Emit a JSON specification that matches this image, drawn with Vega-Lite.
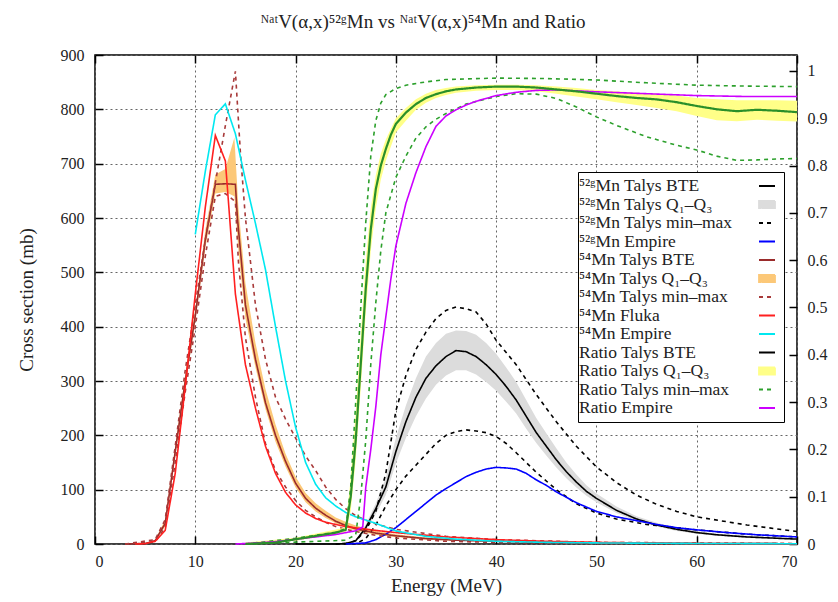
{
  "$schema": "https://vega.github.io/schema/vega-lite/v6.json",
  "width": 702,
  "height": 489,
  "autosize": {"type": "none"},
  "padding": {"left": 95, "top": 55, "right": 41, "bottom": 58},
  "config": {
    "view": {"stroke": "black", "strokeWidth": 1.5},
    "font": "Liberation Serif",
    "axis": {"labelFont": "Liberation Serif", "titleFont": "Liberation Serif", "labelFontSize": 16, "titleFontSize": 19, "titleFontWeight": "normal", "labelColor": "#222", "titleColor": "#222"}
  },
  "title": {"text": "ᴺᵃᵗV(α,x)⁵²ᵍMn vs ᴺᵃᵗV(α,x)⁵⁴Mn and Ratio", "font": "Liberation Serif", "fontSize": 19, "fontWeight": "normal", "color": "#222", "anchor": "middle", "dx": -23, "offset": 15},
  "datasets": {
    "lines": [
      {"s":"01","p":"a","E":20,"v":0},{"s":"01","p":"a","E":24,"v":0},{"s":"01","p":"a","E":25,"v":1},{"s":"01","p":"a","E":26,"v":6},{"s":"01","p":"a","E":27,"v":30},{"s":"01","p":"a","E":28,"v":65},{"s":"01","p":"a","E":29,"v":105},{"s":"01","p":"a","E":30,"v":170},{"s":"01","p":"a","E":31,"v":225},{"s":"01","p":"a","E":32,"v":270},{"s":"01","p":"a","E":33,"v":305},{"s":"01","p":"a","E":34,"v":328},{"s":"01","p":"a","E":35,"v":345},{"s":"01","p":"a","E":36,"v":356},{"s":"01","p":"a","E":37,"v":354},{"s":"01","p":"a","E":38,"v":345},{"s":"01","p":"a","E":39,"v":330},{"s":"01","p":"a","E":40,"v":312},{"s":"01","p":"a","E":41,"v":290},{"s":"01","p":"a","E":42,"v":265},{"s":"01","p":"a","E":43,"v":235},{"s":"01","p":"a","E":44,"v":205},{"s":"01","p":"a","E":45,"v":180},{"s":"01","p":"a","E":46,"v":155},{"s":"01","p":"a","E":47,"v":133},{"s":"01","p":"a","E":48,"v":114},{"s":"01","p":"a","E":49,"v":97},{"s":"01","p":"a","E":50,"v":84},{"s":"01","p":"a","E":52,"v":62},{"s":"01","p":"a","E":54,"v":46},{"s":"01","p":"a","E":56,"v":35},{"s":"01","p":"a","E":58,"v":27},{"s":"01","p":"a","E":60,"v":21},{"s":"01","p":"a","E":62,"v":17},{"s":"01","p":"a","E":65,"v":13},{"s":"01","p":"a","E":70,"v":9},

      {"s":"03","p":"lo","E":24,"v":0},{"s":"03","p":"lo","E":26,"v":0.5},{"s":"03","p":"lo","E":27,"v":10},{"s":"03","p":"lo","E":28,"v":35},{"s":"03","p":"lo","E":29,"v":70},{"s":"03","p":"lo","E":30,"v":100},{"s":"03","p":"lo","E":31,"v":125},{"s":"03","p":"lo","E":32,"v":145},{"s":"03","p":"lo","E":33,"v":165},{"s":"03","p":"lo","E":34,"v":185},{"s":"03","p":"lo","E":35,"v":200},{"s":"03","p":"lo","E":36,"v":207},{"s":"03","p":"lo","E":37,"v":210},{"s":"03","p":"lo","E":38,"v":208},{"s":"03","p":"lo","E":39,"v":205},{"s":"03","p":"lo","E":40,"v":198},{"s":"03","p":"lo","E":41,"v":185},{"s":"03","p":"lo","E":42,"v":168},{"s":"03","p":"lo","E":43,"v":150},{"s":"03","p":"lo","E":44,"v":132},{"s":"03","p":"lo","E":46,"v":100},{"s":"03","p":"lo","E":48,"v":74},{"s":"03","p":"lo","E":50,"v":57},{"s":"03","p":"lo","E":52,"v":46},{"s":"03","p":"lo","E":55,"v":36},{"s":"03","p":"lo","E":60,"v":26},{"s":"03","p":"lo","E":65,"v":18},{"s":"03","p":"lo","E":70,"v":13},

      {"s":"03","p":"hi","E":24,"v":0},{"s":"03","p":"hi","E":25,"v":1},{"s":"03","p":"hi","E":26,"v":6},{"s":"03","p":"hi","E":27,"v":25},{"s":"03","p":"hi","E":28,"v":60},{"s":"03","p":"hi","E":29,"v":130},{"s":"03","p":"hi","E":30,"v":245},{"s":"03","p":"hi","E":31,"v":310},{"s":"03","p":"hi","E":32,"v":358},{"s":"03","p":"hi","E":33,"v":390},{"s":"03","p":"hi","E":34,"v":415},{"s":"03","p":"hi","E":35,"v":430},{"s":"03","p":"hi","E":36,"v":436},{"s":"03","p":"hi","E":37,"v":433},{"s":"03","p":"hi","E":38,"v":427},{"s":"03","p":"hi","E":39,"v":405},{"s":"03","p":"hi","E":40,"v":375},{"s":"03","p":"hi","E":42,"v":330},{"s":"03","p":"hi","E":44,"v":275},{"s":"03","p":"hi","E":46,"v":225},{"s":"03","p":"hi","E":48,"v":180},{"s":"03","p":"hi","E":50,"v":142},{"s":"03","p":"hi","E":52,"v":113},{"s":"03","p":"hi","E":54,"v":90},{"s":"03","p":"hi","E":56,"v":73},{"s":"03","p":"hi","E":58,"v":60},{"s":"03","p":"hi","E":60,"v":50},{"s":"03","p":"hi","E":65,"v":35},{"s":"03","p":"hi","E":70,"v":23},

      {"s":"04","p":"a","E":25,"v":0},{"s":"04","p":"a","E":27,"v":2},{"s":"04","p":"a","E":28,"v":8},{"s":"04","p":"a","E":29,"v":18},{"s":"04","p":"a","E":30,"v":30},{"s":"04","p":"a","E":31,"v":45},{"s":"04","p":"a","E":32,"v":60},{"s":"04","p":"a","E":33,"v":75},{"s":"04","p":"a","E":34,"v":90},{"s":"04","p":"a","E":35,"v":102},{"s":"04","p":"a","E":36,"v":113},{"s":"04","p":"a","E":37,"v":124},{"s":"04","p":"a","E":38,"v":132},{"s":"04","p":"a","E":39,"v":138},{"s":"04","p":"a","E":40,"v":141},{"s":"04","p":"a","E":41,"v":140},{"s":"04","p":"a","E":42,"v":138},{"s":"04","p":"a","E":43,"v":130},{"s":"04","p":"a","E":44,"v":118},{"s":"04","p":"a","E":45,"v":108},{"s":"04","p":"a","E":46,"v":96},{"s":"04","p":"a","E":47,"v":86},{"s":"04","p":"a","E":48,"v":76},{"s":"04","p":"a","E":50,"v":60},{"s":"04","p":"a","E":52,"v":50},{"s":"04","p":"a","E":54,"v":43},{"s":"04","p":"a","E":56,"v":36},{"s":"04","p":"a","E":58,"v":30},{"s":"04","p":"a","E":60,"v":26},{"s":"04","p":"a","E":63,"v":21},{"s":"04","p":"a","E":66,"v":17},{"s":"04","p":"a","E":70,"v":13},

      {"s":"05","p":"a","E":3,"v":0},{"s":"05","p":"a","E":5,"v":1},{"s":"05","p":"a","E":6,"v":6},{"s":"05","p":"a","E":7,"v":38},{"s":"05","p":"a","E":8,"v":170},{"s":"05","p":"a","E":9,"v":300},{"s":"05","p":"a","E":10,"v":420},{"s":"05","p":"a","E":11,"v":560},{"s":"05","p":"a","E":12,"v":662},{"s":"05","p":"a","E":13,"v":663},{"s":"05","p":"a","E":14,"v":662},{"s":"05","p":"a","E":14.2,"v":600},{"s":"05","p":"a","E":15,"v":440},{"s":"05","p":"a","E":16,"v":340},{"s":"05","p":"a","E":17,"v":260},{"s":"05","p":"a","E":18,"v":200},{"s":"05","p":"a","E":19,"v":152},{"s":"05","p":"a","E":20,"v":112},{"s":"05","p":"a","E":21,"v":84},{"s":"05","p":"a","E":22,"v":66},{"s":"05","p":"a","E":23,"v":53},{"s":"05","p":"a","E":24,"v":42},{"s":"05","p":"a","E":25,"v":34},{"s":"05","p":"a","E":26,"v":28},{"s":"05","p":"a","E":28,"v":20},{"s":"05","p":"a","E":30,"v":15},{"s":"05","p":"a","E":33,"v":10},{"s":"05","p":"a","E":36,"v":7},{"s":"05","p":"a","E":40,"v":5},{"s":"05","p":"a","E":45,"v":3},{"s":"05","p":"a","E":50,"v":2},{"s":"05","p":"a","E":60,"v":1},{"s":"05","p":"a","E":70,"v":0.5},

      {"s":"07","p":"lo","E":3,"v":0},{"s":"07","p":"lo","E":6,"v":4},{"s":"07","p":"lo","E":7,"v":30},{"s":"07","p":"lo","E":8,"v":150},{"s":"07","p":"lo","E":9,"v":280},{"s":"07","p":"lo","E":10,"v":400},{"s":"07","p":"lo","E":11,"v":530},{"s":"07","p":"lo","E":12,"v":640},{"s":"07","p":"lo","E":13,"v":645},{"s":"07","p":"lo","E":14,"v":630},{"s":"07","p":"lo","E":14.3,"v":520},{"s":"07","p":"lo","E":15,"v":380},{"s":"07","p":"lo","E":16,"v":270},{"s":"07","p":"lo","E":17,"v":185},{"s":"07","p":"lo","E":18,"v":135},{"s":"07","p":"lo","E":19,"v":105},{"s":"07","p":"lo","E":20,"v":80},{"s":"07","p":"lo","E":21,"v":62},{"s":"07","p":"lo","E":22,"v":50},{"s":"07","p":"lo","E":23,"v":40},{"s":"07","p":"lo","E":24,"v":32},{"s":"07","p":"lo","E":25,"v":27},{"s":"07","p":"lo","E":26,"v":23},{"s":"07","p":"lo","E":28,"v":16},{"s":"07","p":"lo","E":30,"v":11},{"s":"07","p":"lo","E":35,"v":5},{"s":"07","p":"lo","E":40,"v":3},{"s":"07","p":"lo","E":50,"v":1},{"s":"07","p":"lo","E":70,"v":0.3},

      {"s":"07","p":"hi","E":3,"v":0},{"s":"07","p":"hi","E":6,"v":8},{"s":"07","p":"hi","E":7,"v":45},{"s":"07","p":"hi","E":8,"v":180},{"s":"07","p":"hi","E":9,"v":320},{"s":"07","p":"hi","E":10,"v":440},{"s":"07","p":"hi","E":11,"v":560},{"s":"07","p":"hi","E":12,"v":665},{"s":"07","p":"hi","E":13,"v":770},{"s":"07","p":"hi","E":14,"v":870},{"s":"07","p":"hi","E":14.5,"v":720},{"s":"07","p":"hi","E":15,"v":600},{"s":"07","p":"hi","E":16,"v":440},{"s":"07","p":"hi","E":17,"v":340},{"s":"07","p":"hi","E":18,"v":270},{"s":"07","p":"hi","E":19,"v":230},{"s":"07","p":"hi","E":20,"v":195},{"s":"07","p":"hi","E":21,"v":162},{"s":"07","p":"hi","E":22,"v":135},{"s":"07","p":"hi","E":23,"v":105},{"s":"07","p":"hi","E":24,"v":82},{"s":"07","p":"hi","E":25,"v":65},{"s":"07","p":"hi","E":26,"v":52},{"s":"07","p":"hi","E":27,"v":44},{"s":"07","p":"hi","E":28,"v":37},{"s":"07","p":"hi","E":30,"v":27},{"s":"07","p":"hi","E":35,"v":14},{"s":"07","p":"hi","E":40,"v":8},{"s":"07","p":"hi","E":50,"v":3},{"s":"07","p":"hi","E":70,"v":1},

      {"s":"08","p":"a","E":4,"v":0},{"s":"08","p":"a","E":5,"v":0.5},{"s":"08","p":"a","E":6,"v":5},{"s":"08","p":"a","E":7,"v":25},{"s":"08","p":"a","E":8,"v":130},{"s":"08","p":"a","E":9,"v":290},{"s":"08","p":"a","E":10,"v":460},{"s":"08","p":"a","E":11,"v":620},{"s":"08","p":"a","E":12,"v":752},{"s":"08","p":"a","E":13,"v":705},{"s":"08","p":"a","E":14,"v":460},{"s":"08","p":"a","E":15,"v":330},{"s":"08","p":"a","E":16,"v":250},{"s":"08","p":"a","E":17,"v":180},{"s":"08","p":"a","E":18,"v":130},{"s":"08","p":"a","E":19,"v":95},{"s":"08","p":"a","E":20,"v":72},{"s":"08","p":"a","E":21,"v":57},{"s":"08","p":"a","E":22,"v":47},{"s":"08","p":"a","E":23,"v":40},{"s":"08","p":"a","E":25,"v":32},{"s":"08","p":"a","E":28,"v":25},{"s":"08","p":"a","E":30,"v":21},{"s":"08","p":"a","E":35,"v":13},{"s":"08","p":"a","E":40,"v":8},{"s":"08","p":"a","E":45,"v":5},{"s":"08","p":"a","E":50,"v":3},{"s":"08","p":"a","E":60,"v":1},{"s":"08","p":"a","E":70,"v":0.5},

      {"s":"09","p":"a","E":10,"v":570},{"s":"09","p":"a","E":11,"v":686},{"s":"09","p":"a","E":12,"v":790},{"s":"09","p":"a","E":13,"v":810},{"s":"09","p":"a","E":14,"v":755},{"s":"09","p":"a","E":15,"v":670},{"s":"09","p":"a","E":16,"v":590},{"s":"09","p":"a","E":17,"v":505},{"s":"09","p":"a","E":18,"v":400},{"s":"09","p":"a","E":19,"v":300},{"s":"09","p":"a","E":20,"v":215},{"s":"09","p":"a","E":21,"v":150},{"s":"09","p":"a","E":22,"v":110},{"s":"09","p":"a","E":23,"v":85},{"s":"09","p":"a","E":24,"v":70},{"s":"09","p":"a","E":25,"v":58},{"s":"09","p":"a","E":26,"v":50},{"s":"09","p":"a","E":28,"v":38},{"s":"09","p":"a","E":30,"v":24},{"s":"09","p":"a","E":33,"v":14},{"s":"09","p":"a","E":36,"v":9},{"s":"09","p":"a","E":40,"v":5},{"s":"09","p":"a","E":45,"v":3},{"s":"09","p":"a","E":50,"v":2},{"s":"09","p":"a","E":60,"v":1},{"s":"09","p":"a","E":70,"v":0.5},

      {"s":"10","p":"a","E":15,"v":0},{"s":"10","p":"a","E":18,"v":0.003},{"s":"10","p":"a","E":20,"v":0.01},{"s":"10","p":"a","E":22,"v":0.017},{"s":"10","p":"a","E":24,"v":0.024},{"s":"10","p":"a","E":25,"v":0.03},{"s":"10","p":"a","E":25.5,"v":0.1},{"s":"10","p":"a","E":26,"v":0.22},{"s":"10","p":"a","E":26.5,"v":0.38},{"s":"10","p":"a","E":27,"v":0.54},{"s":"10","p":"a","E":27.5,"v":0.665},{"s":"10","p":"a","E":28,"v":0.75},{"s":"10","p":"a","E":28.5,"v":0.8},{"s":"10","p":"a","E":29,"v":0.835},{"s":"10","p":"a","E":29.5,"v":0.865},{"s":"10","p":"a","E":30,"v":0.888},{"s":"10","p":"a","E":31,"v":0.912},{"s":"10","p":"a","E":32,"v":0.93},{"s":"10","p":"a","E":33,"v":0.943},{"s":"10","p":"a","E":34,"v":0.951},{"s":"10","p":"a","E":35,"v":0.957},{"s":"10","p":"a","E":36,"v":0.961},{"s":"10","p":"a","E":38,"v":0.965},{"s":"10","p":"a","E":40,"v":0.967},{"s":"10","p":"a","E":42,"v":0.967},{"s":"10","p":"a","E":44,"v":0.965},{"s":"10","p":"a","E":46,"v":0.961},{"s":"10","p":"a","E":48,"v":0.957},{"s":"10","p":"a","E":50,"v":0.952},{"s":"10","p":"a","E":52,"v":0.947},{"s":"10","p":"a","E":54,"v":0.943},{"s":"10","p":"a","E":56,"v":0.94},{"s":"10","p":"a","E":58,"v":0.934},{"s":"10","p":"a","E":60,"v":0.926},{"s":"10","p":"a","E":62,"v":0.919},{"s":"10","p":"a","E":64,"v":0.915},{"s":"10","p":"a","E":66,"v":0.918},{"s":"10","p":"a","E":68,"v":0.916},{"s":"10","p":"a","E":70,"v":0.913},

      {"s":"12","p":"lo","E":15,"v":0},{"s":"12","p":"lo","E":20,"v":0.004},{"s":"12","p":"lo","E":25,"v":0.008},{"s":"12","p":"lo","E":26,"v":0.02},{"s":"12","p":"lo","E":26.5,"v":0.1},{"s":"12","p":"lo","E":27,"v":0.22},{"s":"12","p":"lo","E":27.5,"v":0.38},{"s":"12","p":"lo","E":28,"v":0.51},{"s":"12","p":"lo","E":28.5,"v":0.62},{"s":"12","p":"lo","E":29,"v":0.7},{"s":"12","p":"lo","E":30,"v":0.775},{"s":"12","p":"lo","E":31,"v":0.82},{"s":"12","p":"lo","E":32,"v":0.858},{"s":"12","p":"lo","E":33,"v":0.882},{"s":"12","p":"lo","E":34,"v":0.898},{"s":"12","p":"lo","E":35,"v":0.91},{"s":"12","p":"lo","E":37,"v":0.93},{"s":"12","p":"lo","E":40,"v":0.946},{"s":"12","p":"lo","E":42,"v":0.952},{"s":"12","p":"lo","E":44,"v":0.951},{"s":"12","p":"lo","E":46,"v":0.942},{"s":"12","p":"lo","E":48,"v":0.924},{"s":"12","p":"lo","E":50,"v":0.903},{"s":"12","p":"lo","E":52,"v":0.885},{"s":"12","p":"lo","E":55,"v":0.861},{"s":"12","p":"lo","E":58,"v":0.843},{"s":"12","p":"lo","E":60,"v":0.833},{"s":"12","p":"lo","E":62,"v":0.82},{"s":"12","p":"lo","E":64,"v":0.811},{"s":"12","p":"lo","E":66,"v":0.812},{"s":"12","p":"lo","E":68,"v":0.814},{"s":"12","p":"lo","E":70,"v":0.815},

      {"s":"12","p":"hi","E":15,"v":0},{"s":"12","p":"hi","E":20,"v":0.012},{"s":"12","p":"hi","E":24,"v":0.025},{"s":"12","p":"hi","E":25,"v":0.032},{"s":"12","p":"hi","E":25.5,"v":0.12},{"s":"12","p":"hi","E":26,"v":0.3},{"s":"12","p":"hi","E":26.5,"v":0.5},{"s":"12","p":"hi","E":27,"v":0.68},{"s":"12","p":"hi","E":27.5,"v":0.82},{"s":"12","p":"hi","E":28,"v":0.895},{"s":"12","p":"hi","E":28.5,"v":0.932},{"s":"12","p":"hi","E":29,"v":0.95},{"s":"12","p":"hi","E":30,"v":0.963},{"s":"12","p":"hi","E":31,"v":0.97},{"s":"12","p":"hi","E":33,"v":0.977},{"s":"12","p":"hi","E":35,"v":0.982},{"s":"12","p":"hi","E":40,"v":0.985},{"s":"12","p":"hi","E":45,"v":0.984},{"s":"12","p":"hi","E":50,"v":0.981},{"s":"12","p":"hi","E":55,"v":0.975},{"s":"12","p":"hi","E":60,"v":0.97},{"s":"12","p":"hi","E":65,"v":0.968},{"s":"12","p":"hi","E":70,"v":0.967},

      {"s":"13","p":"a","E":14,"v":0},{"s":"13","p":"a","E":16,"v":0.002},{"s":"13","p":"a","E":18,"v":0.005},{"s":"13","p":"a","E":20,"v":0.01},{"s":"13","p":"a","E":22,"v":0.015},{"s":"13","p":"a","E":24,"v":0.02},{"s":"13","p":"a","E":26,"v":0.028},{"s":"13","p":"a","E":26.7,"v":0.036},{"s":"13","p":"a","E":27,"v":0.12},{"s":"13","p":"a","E":27.5,"v":0.2},{"s":"13","p":"a","E":28,"v":0.29},{"s":"13","p":"a","E":28.5,"v":0.4},{"s":"13","p":"a","E":29,"v":0.48},{"s":"13","p":"a","E":29.5,"v":0.56},{"s":"13","p":"a","E":30,"v":0.63},{"s":"13","p":"a","E":31,"v":0.72},{"s":"13","p":"a","E":32,"v":0.785},{"s":"13","p":"a","E":33,"v":0.84},{"s":"13","p":"a","E":34,"v":0.883},{"s":"13","p":"a","E":35,"v":0.905},{"s":"13","p":"a","E":36,"v":0.918},{"s":"13","p":"a","E":37,"v":0.928},{"s":"13","p":"a","E":38,"v":0.936},{"s":"13","p":"a","E":40,"v":0.948},{"s":"13","p":"a","E":42,"v":0.955},{"s":"13","p":"a","E":44,"v":0.959},{"s":"13","p":"a","E":46,"v":0.96},{"s":"13","p":"a","E":48,"v":0.958},{"s":"13","p":"a","E":50,"v":0.956},{"s":"13","p":"a","E":55,"v":0.952},{"s":"13","p":"a","E":60,"v":0.948},{"s":"13","p":"a","E":65,"v":0.946},{"s":"13","p":"a","E":70,"v":0.946}
    ],
    "bands": [
      {"s":"02","E":26,"lo":3,"hi":7},{"s":"02","E":27,"lo":25,"hi":36},{"s":"02","E":28,"lo":55,"hi":75},{"s":"02","E":29,"lo":90,"hi":122},{"s":"02","E":30,"lo":148,"hi":195},{"s":"02","E":31,"lo":195,"hi":255},{"s":"02","E":32,"lo":235,"hi":305},{"s":"02","E":33,"lo":268,"hi":345},{"s":"02","E":34,"lo":293,"hi":370},{"s":"02","E":35,"lo":310,"hi":387},{"s":"02","E":36,"lo":320,"hi":393},{"s":"02","E":37,"lo":320,"hi":392},{"s":"02","E":38,"lo":312,"hi":385},{"s":"02","E":39,"lo":298,"hi":370},{"s":"02","E":40,"lo":282,"hi":350},{"s":"02","E":41,"lo":262,"hi":325},{"s":"02","E":42,"lo":240,"hi":298},{"s":"02","E":43,"lo":212,"hi":265},{"s":"02","E":44,"lo":186,"hi":232},{"s":"02","E":45,"lo":163,"hi":204},{"s":"02","E":46,"lo":141,"hi":176},{"s":"02","E":47,"lo":121,"hi":150},{"s":"02","E":48,"lo":104,"hi":128},{"s":"02","E":49,"lo":89,"hi":108},{"s":"02","E":50,"lo":77,"hi":93},{"s":"02","E":52,"lo":57,"hi":69},{"s":"02","E":54,"lo":42,"hi":51},{"s":"02","E":56,"lo":32,"hi":39},{"s":"02","E":58,"lo":24,"hi":30},{"s":"02","E":60,"lo":19,"hi":24},{"s":"02","E":62,"lo":15,"hi":19},{"s":"02","E":65,"lo":11,"hi":15},{"s":"02","E":70,"lo":8,"hi":10},

      {"s":"06","E":6,"lo":4,"hi":8},{"s":"06","E":7,"lo":32,"hi":45},{"s":"06","E":8,"lo":160,"hi":180},{"s":"06","E":9,"lo":290,"hi":312},{"s":"06","E":10,"lo":410,"hi":432},{"s":"06","E":11,"lo":545,"hi":578},{"s":"06","E":12,"lo":645,"hi":680},{"s":"06","E":13,"lo":648,"hi":690},{"s":"06","E":13.9,"lo":640,"hi":748},{"s":"06","E":14.3,"lo":540,"hi":620},{"s":"06","E":15,"lo":415,"hi":480},{"s":"06","E":16,"lo":325,"hi":370},{"s":"06","E":17,"lo":248,"hi":285},{"s":"06","E":18,"lo":188,"hi":220},{"s":"06","E":19,"lo":142,"hi":166},{"s":"06","E":20,"lo":104,"hi":124},{"s":"06","E":21,"lo":77,"hi":94},{"s":"06","E":22,"lo":60,"hi":75},{"s":"06","E":23,"lo":48,"hi":61},{"s":"06","E":24,"lo":38,"hi":49},{"s":"06","E":25,"lo":30,"hi":41},{"s":"06","E":26,"lo":25,"hi":34},{"s":"06","E":28,"lo":17,"hi":24},{"s":"06","E":30,"lo":13,"hi":18},{"s":"06","E":33,"lo":8,"hi":12},{"s":"06","E":36,"lo":6,"hi":9},{"s":"06","E":40,"lo":4,"hi":6},{"s":"06","E":45,"lo":2.5,"hi":4},{"s":"06","E":50,"lo":1.5,"hi":2.5},{"s":"06","E":60,"lo":0.7,"hi":1.3},{"s":"06","E":70,"lo":0.3,"hi":0.7},

      {"s":"11","E":15,"lo":0,"hi":0.003},{"s":"11","E":20,"lo":0.007,"hi":0.013},{"s":"11","E":25,"lo":0.025,"hi":0.035},{"s":"11","E":25.5,"lo":0.07,"hi":0.14},{"s":"11","E":26,"lo":0.18,"hi":0.28},{"s":"11","E":26.5,"lo":0.33,"hi":0.44},{"s":"11","E":27,"lo":0.49,"hi":0.6},{"s":"11","E":27.5,"lo":0.62,"hi":0.71},{"s":"11","E":28,"lo":0.71,"hi":0.78},{"s":"11","E":28.5,"lo":0.77,"hi":0.825},{"s":"11","E":29,"lo":0.81,"hi":0.855},{"s":"11","E":30,"lo":0.87,"hi":0.9},{"s":"11","E":31,"lo":0.895,"hi":0.922},{"s":"11","E":32,"lo":0.918,"hi":0.94},{"s":"11","E":33,"lo":0.933,"hi":0.952},{"s":"11","E":34,"lo":0.943,"hi":0.96},{"s":"11","E":35,"lo":0.949,"hi":0.964},{"s":"11","E":36,"lo":0.954,"hi":0.967},{"s":"11","E":38,"lo":0.958,"hi":0.97},{"s":"11","E":40,"lo":0.96,"hi":0.971},{"s":"11","E":42,"lo":0.96,"hi":0.971},{"s":"11","E":44,"lo":0.957,"hi":0.97},{"s":"11","E":46,"lo":0.952,"hi":0.967},{"s":"11","E":48,"lo":0.946,"hi":0.964},{"s":"11","E":50,"lo":0.94,"hi":0.96},{"s":"11","E":52,"lo":0.934,"hi":0.957},{"s":"11","E":54,"lo":0.928,"hi":0.954},{"s":"11","E":56,"lo":0.922,"hi":0.952},{"s":"11","E":58,"lo":0.915,"hi":0.948},{"s":"11","E":60,"lo":0.905,"hi":0.943},{"s":"11","E":62,"lo":0.896,"hi":0.94},{"s":"11","E":64,"lo":0.894,"hi":0.938},{"s":"11","E":66,"lo":0.897,"hi":0.938},{"s":"11","E":68,"lo":0.895,"hi":0.938},{"s":"11","E":70,"lo":0.893,"hi":0.937}
    ]
  },
  "layer": [
    {
      "layer": [
        {
          "data": {"name": "bands"},
          "transform": [{"filter": "datum.s == '02' || datum.s == '06'"}],
          "mark": {"type": "area", "opacity": 1},
          "encoding": {
            "x": {"field": "E", "type": "quantitative", "scale": {"domain": [0, 70], "nice": false},
                  "axis": {"values": [0,10,20,30,40,50,60,70], "grid": true, "gridColor": "#666", "gridDash": [2,3], "gridWidth": 1, "tickSize": -8, "tickColor": "black", "tickWidth": 1.5, "domain": false, "labelPadding": 17, "title": "Energy (MeV)", "titlePadding": 7}},
            "y": {"field": "lo", "type": "quantitative", "scale": {"domain": [0, 900], "nice": false},
                  "axis": {"values": [0,100,200,300,400,500,600,700,800,900], "grid": true, "gridColor": "#666", "gridDash": [2,3], "gridWidth": 1, "tickSize": -8, "tickColor": "black", "tickWidth": 1.5, "domain": false, "labelPadding": 19, "title": "Cross section (mb)", "titlePadding": 24}},
            "y2": {"field": "hi"},
            "color": {"field": "s", "type": "nominal"},
            "detail": {"field": "s"}
          }
        },
        {
          "data": {"name": "lines"},
          "transform": [{"filter": "toNumber(datum.s) < 10"}],
          "mark": {"type": "line", "strokeWidth": 1.6},
          "encoding": {
            "x": {"field": "E", "type": "quantitative"},
            "y": {"field": "v", "type": "quantitative"},
            "color": {"field": "s", "type": "nominal"},
            "strokeDash": {"field": "s", "type": "nominal"},
            "detail": {"field": "p"}
          }
        }
      ]
    },
    {
      "layer": [
        {
          "data": {"name": "bands"},
          "transform": [{"filter": "datum.s == '11'"}],
          "mark": {"type": "area", "opacity": 1},
          "encoding": {
            "x": {"field": "E", "type": "quantitative",
                  "axis": {"orient": "top", "values": [0,10,20,30,40,50,60,70], "labels": false, "grid": false, "tickSize": -8, "tickColor": "black", "tickWidth": 1.5, "domain": false, "title": null}},
            "y": {"field": "lo", "type": "quantitative", "scale": {"domain": [0, 1.0338], "nice": false},
                  "axis": {"orient": "right", "values": [0,0.1,0.2,0.3,0.4,0.5,0.6,0.7,0.8,0.9,1], "format": ".1~f", "grid": false, "tickSize": -8, "tickColor": "black", "tickWidth": 1.5, "domain": false, "labelPadding": 18, "title": null}},
            "y2": {"field": "hi"},
            "color": {"field": "s", "type": "nominal"}
          }
        },
        {
          "data": {"name": "lines"},
          "transform": [{"filter": "datum.s == '12' || datum.s == '13'"}],
          "mark": {"type": "line", "strokeWidth": 1.6},
          "encoding": {
            "x": {"field": "E", "type": "quantitative"},
            "y": {"field": "v", "type": "quantitative"},
            "color": {"field": "s", "type": "nominal"},
            "strokeDash": {"field": "s", "type": "nominal"},
            "detail": {"field": "p"}
          }
        },
        {
          "data": {"name": "lines"},
          "transform": [{"filter": "datum.s == '10'"}],
          "mark": {"type": "line", "strokeWidth": 2.2, "stroke": "#2a8f2a"},
          "encoding": {
            "x": {"field": "E", "type": "quantitative"},
            "y": {"field": "v", "type": "quantitative"}
          }
        }
      ]
    }
  ],
  "resolve": {"scale": {"y": "independent"}, "axis": {"x": "independent"}},
  "encoding": {
    "color": {"field": "s", "type": "nominal",
      "scale": {"domain": ["01","02","03","04","05","06","07","08","09","10","11","12","13"],
                "range": ["#000000","#dcdcdc","#000000","#0000ff","#9a2b2b","#fcc878","#a83a3a","#ff2020","#00e8f0","#000000","#ffff88","#2ca02c","#cc00ff"]},
      "legend": {"orient": "none", "legendX": 483, "legendY": 117, "title": null,
        "strokeColor": "black", "fillColor": "white", "padding": 5,
        "labelFont": "Liberation Serif", "labelFontSize": 17.5, "labelColor": "#222",
        "labelLimit": 300, "rowPadding": 0.5, "symbolSize": 256, "symbolOffset": 175, "labelOffset": -197,
        "labelExpr": "['⁵²ᵍMn Talys BTE','⁵²ᵍMn Talys Q₁–Q₃','⁵²ᵍMn Talys min–max','⁵²ᵍMn Empire','⁵⁴Mn Talys BTE','⁵⁴Mn Talys Q₁–Q₃','⁵⁴Mn Talys min–max','⁵⁴Mn Fluka','⁵⁴Mn Empire','Ratio Talys BTE','Ratio Talys Q₁–Q₃','Ratio Talys min–max','Ratio Empire'][toNumber(datum.value)-1]",
        "encode": {"symbols": {"update": {
          "shape": {"signal": "indexof(['02','06','11'], datum.value) >= 0 ? 'M-1,-0.45H1V0.45H-1Z' : 'M-1,0H1'"},
          "fill": {"signal": "indexof(['02','06','11'], datum.value) >= 0 ? scale('color', datum.value) : 'transparent'"},
          "stroke": {"signal": "indexof(['02','06','11'], datum.value) >= 0 ? 'transparent' : scale('color', datum.value)"},
          "strokeWidth": {"value": 1.8}
        }}}
      }
    },
    "strokeDash": {"field": "s", "type": "nominal",
      "scale": {"domain": ["01","02","03","04","05","06","07","08","09","10","11","12","13"],
                "range": [[1,0],[1,0],[4,4],[1,0],[1,0],[1,0],[4,4],[1,0],[1,0],[1,0],[1,0],[4,4],[1,0]]}}
  }
}
